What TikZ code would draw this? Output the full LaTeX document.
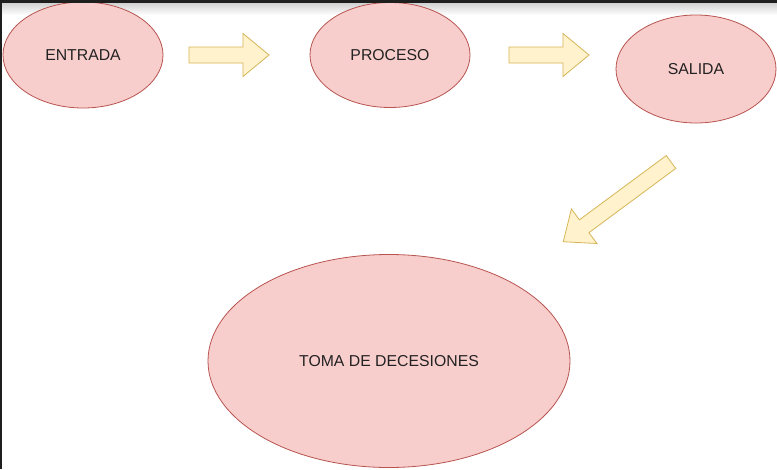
\documentclass[tikz,border=0pt]{standalone}
\usepackage{fontspec}
\setmainfont{Liberation Sans}
\usetikzlibrary{shapes.geometric}
\definecolor{ellfill}{HTML}{F8CECC}
\definecolor{elldraw}{HTML}{B85450}
\definecolor{arrfill}{HTML}{FFF2CC}
\definecolor{arrdraw}{HTML}{D6B656}
\definecolor{txt}{HTML}{222222}
\definecolor{frame}{HTML}{1E1E1E}
\begin{document}
\begin{tikzpicture}[x=1pt,y=-1pt,
  ell/.style={ellipse, draw=elldraw, fill=ellfill, line width=0.8pt, inner sep=0pt, text=txt,
    font=\fontsize{15.8}{18}\selectfont},
  barrowstyle/.style={draw=arrdraw, fill=arrfill, line width=0.8pt, line join=miter},
  barrow/.pic={\path[barrowstyle] (0,-8)--(#1-26,-8)--(#1-26,-21.5)--(#1,0)--(#1-26,21.5)--(#1-26,8)--(0,8)--cycle;}
]
\useasboundingbox (0,0) rectangle (777,469);
\fill[white] (0,0) rectangle (777,469);
\shade[top color=black!18, bottom color=white] (0,3) rectangle (777,15);
\node[ell, minimum width=160pt, minimum height=106pt] (entrada) at (83,55) {ENTRADA};
\node[ell, minimum width=160pt, minimum height=105pt] (proceso) at (390,55) {PROCESO};
\node[ell, minimum width=160pt, minimum height=108pt] (salida) at (696,69) {SALIDA};
\node[ell, minimum width=362pt, minimum height=213pt] (toma) at (389,361) {TOMA DE DECESIONES};
\pic (a1) at (189,55) {barrow=80};
\pic (a2) at (509,55) {barrow=80};
\pic[rotate=216.5] (a3) at (671,162) {barrow=134};
\fill[frame] (0,0) rectangle (777,3);
\fill[frame] (0,0) rectangle (2,469);
\end{tikzpicture}
\end{document}
